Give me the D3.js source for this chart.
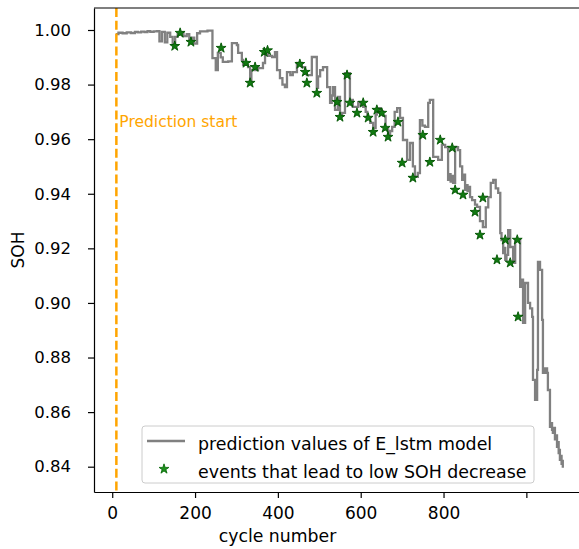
<!DOCTYPE html>
<html>
<head>
<meta charset="utf-8">
<style>
body{ margin:0; background:#fff; }
svg text{ font-family: "DejaVu Sans", sans-serif; fill:#000; }
.axis path, .axis line{ stroke:#000; stroke-width:1.2; }
</style>
<script src="https://d3js.org/d3.v7.min.js"></script>
</head>
<body>
<script>
var w = 579;
var h = 549;

// prediction values (step line)
var cycles = [9,15,25,35,45,55,62,70,78,85,92,100,108,114,120,127,133,140,146,152,158,165,172,180,186,192,198,205,212,230,
  242,250,255,262,267,280,289,301,304,313,316,328,333,336,345,352,364,369,376,386,393,398,405,411,417,422,
  430,436,446,458,466,470,482,490,494,497,502,509,519,526,530,533,538,545,550,555,562,569,574,581,594,600,606,
  612,616,623,630,636,639,642,645,648,651,654,660,666,671,676,682,688,695,702,712,719,726,731,738,743,749,755,763,767,
  772,775,787,796,804,811,814,817,820,823,828,835,840,845,848,852,855,858,861,864,869,876,881,888,895,902,908,914,920,926,932,
  937,940,944,946,949,952,956,961,968,973,980,985,988,992,997,1004,1009,1014,1016,1021,1026,1028,1033,1038,1040,1045,
  1050,1052,1057,1060,1062,1064,1066,1069,1071,1074,1076,1078,1080,1081,1083,1085,1087,1088];
var soh = [0.9985,0.9990,0.9988,0.9991,0.9989,0.9993,0.9991,0.9994,0.9992,0.9996,0.9993,0.9995,0.9996,0.9958,0.9993,0.9955,0.9990,0.9975,0.9948,
  0.9975,0.9985,0.9992,0.9978,0.9985,0.9962,0.9972,0.9950,0.9988,0.9995,0.9998,
  0.9897,0.9853,0.9916,0.9900,0.9883,0.9885,0.9952,0.9945,0.9916,0.9890,0.9872,0.9864,0.9806,0.9853,0.9853,
  0.9860,0.9879,0.9919,0.9905,0.9901,0.9919,0.9853,0.9824,0.9800,0.9791,0.9846,
  0.9835,0.9846,0.9879,0.9864,0.9840,0.9835,0.9901,0.9901,0.9788,0.9830,0.9853,0.9864,0.9791,0.9733,0.9760,0.9791,
  0.9707,0.9755,0.9690,0.9696,0.9842,0.9842,0.9744,0.9718,0.9736,0.9725,0.9718,
  0.9700,0.9678,0.9660,0.9641,0.9690,0.9712,0.9700,0.9714,0.9690,0.9702,0.9685,0.9640,0.9615,0.9630,0.9645,0.9700,0.9714,0.9678,
  0.9597,0.9524,0.9586,0.9500,0.9462,0.9476,0.9670,0.9650,0.9645,0.9733,0.9744,
  0.9744,0.9535,0.9524,0.9579,0.9571,0.9451,0.9472,0.9445,0.9465,0.9440,0.9571,0.9560,0.9500,0.9451,0.9470,0.9414,0.9432,0.9410,0.9425,0.9388,
  0.9377,0.9360,0.9352,0.9300,0.9278,0.9350,0.9388,0.9440,0.9451,0.9420,0.9403,
  0.9256,0.9230,0.9183,0.9202,0.9158,0.9176,0.9267,0.9205,0.9147,0.9231,0.9231,0.9059,0.9085,0.8927,0.9073,0.9000,0.8980,0.8949,
  0.8718,0.8645,0.8755,0.9150,0.9121,0.8938,0.8744,0.8760,
  0.8744,0.8681,0.8546,0.8560,0.8535,0.8524,0.8542,0.8500,0.8515,0.8473,0.8490,0.8450,0.8462,0.8425,0.8440,0.8410,0.8421,0.8396];

// events that lead to low SOH decrease
var eventCycles = [151,164,190,263,323,333,345,367,375,453,466,470,494,543,550,567,574,591,606,618,630,639,
  651,659,666,690,700,726,750,767,792,821,828,847,876,888,895,929,949,961,978,980];
var eventSoh = [0.9941,0.9989,0.9956,0.9934,0.9879,0.9806,0.9864,0.9919,0.9925,0.9875,0.9846,0.9806,0.9769,
  0.9736,0.9681,0.9835,0.9733,0.9696,0.9733,0.9678,0.9626,0.9707,0.9696,0.9641,0.9608,0.9663,0.9513,0.9458,
  0.9615,0.9516,0.9597,0.9568,0.9414,0.9396,0.9333,0.9249,0.9385,0.9158,0.9231,0.9147,0.9231,0.8949];

var predictionStart = 10;
var xTicks = [0,200,400,600,800,1000];
var xTickLabels = ["0","200","400","600","800",""];
var yTicks = [0.84,0.86,0.88,0.90,0.92,0.94,0.96,0.98,1.00];
var legendLabels = ["prediction values of E_lstm model", "events that lead to low SOH decrease"];

var pLeft = 94, pRight = 586, pTop = 8, pBottom = 492;

var xScale = d3.scaleLinear().domain([-44, 1144]).range([pLeft, pRight]);
var yScale = d3.scaleLinear().domain([0.83073, 1.00806]).range([pBottom, pTop]);

var svg = d3.select("body").append("svg")
    .attr("width", w)
    .attr("height", h);

var lineData = cycles.map(function(c, i){ return {x: c, y: soh[i]}; });
var events = eventCycles.map(function(c, i){ return {x: c, y: eventSoh[i]}; });

var line = d3.line()
    .curve(d3.curveStepAfter)
    .x(function(d){ return xScale(d.x); })
    .y(function(d){ return yScale(d.y); });

svg.append("path")
   .datum(lineData)
   .attr("d", line)
   .attr("fill", "none")
   .attr("stroke", "#808080")
   .attr("stroke-width", 2.3);

var star = d3.symbol().type(d3.symbolStar).size(30);

svg.selectAll(".ev")
   .data(events)
   .enter().append("path")
   .attr("class", "ev")
   .attr("d", star)
   .attr("transform", function(d){ return "translate(" + xScale(d.x) + "," + yScale(d.y) + ")"; })
   .attr("fill", "#117a11")
   .attr("stroke", "#005400")
   .attr("stroke-width", 0.9);

// prediction start marker
svg.append("line")
   .attr("x1", xScale(predictionStart)).attr("x2", xScale(predictionStart))
   .attr("y1", pTop).attr("y2", pBottom)
   .attr("stroke", "orange")
   .attr("stroke-width", 2.5)
   .attr("stroke-dasharray", "9,3.8");

svg.append("text")
   .attr("x", xScale(predictionStart) + 3)
   .attr("y", 127)
   .style("fill", "orange")
   .style("font-size", "15.5px")
   .text("Prediction start");

// axes
svg.append("g")
   .attr("class", "axis")
   .attr("transform", "translate(0," + pBottom + ")")
   .call(d3.axisBottom(xScale).tickValues(xTicks)
         .tickFormat(function(d, i){ return xTickLabels[i]; })
         .tickSize(6).tickPadding(8.5).tickSizeOuter(0))
   .selectAll("text").style("font-size", "17px");

svg.append("g")
   .attr("class", "axis")
   .attr("transform", "translate(" + pLeft + ",0)")
   .call(d3.axisLeft(yScale).tickValues(yTicks)
         .tickFormat(d3.format(".2f"))
         .tickSize(6).tickPadding(17).tickSizeOuter(0))
   .selectAll("text").style("font-size", "16.5px");

svg.append("line")
   .attr("x1", pLeft).attr("x2", pRight)
   .attr("y1", pTop).attr("y2", pTop)
   .attr("stroke", "#000").attr("stroke-width", 1.2);

svg.append("text")
   .attr("x", 277.5)
   .attr("y", 541.5)
   .attr("text-anchor", "middle")
   .style("font-size", "17.3px")
   .text("cycle number");

svg.append("text")
   .attr("transform", "translate(24," + ((pTop + pBottom) / 2) + ") rotate(-90)")
   .attr("text-anchor", "middle")
   .style("font-size", "17px")
   .text("SOH");

// legend
var legend = svg.append("g");
legend.append("rect")
   .attr("x", 142).attr("y", 426)
   .attr("width", 392).attr("height", 57)
   .attr("rx", 3)
   .attr("fill", "#fff").attr("fill-opacity", 0.8)
   .attr("stroke", "#cccccc");

legend.append("line")
   .attr("x1", 147).attr("x2", 185)
   .attr("y1", 441).attr("y2", 441)
   .attr("stroke", "#808080")
   .attr("stroke-width", 2.3);

legend.append("path")
   .attr("d", star)
   .attr("transform", "translate(164,469)")
   .attr("fill", "#1f8f1f")
   .attr("stroke", "#006400")
   .attr("stroke-width", 0.8);

legend.selectAll(".lt")
   .data(legendLabels)
   .enter().append("text")
   .attr("class", "lt")
   .attr("x", 198)
   .attr("y", function(d, i){ return 449.5 + i * 28.3; })
   .style("font-size", "17.4px")
   .text(function(d){ return d; });
</script>
</body>
</html>
